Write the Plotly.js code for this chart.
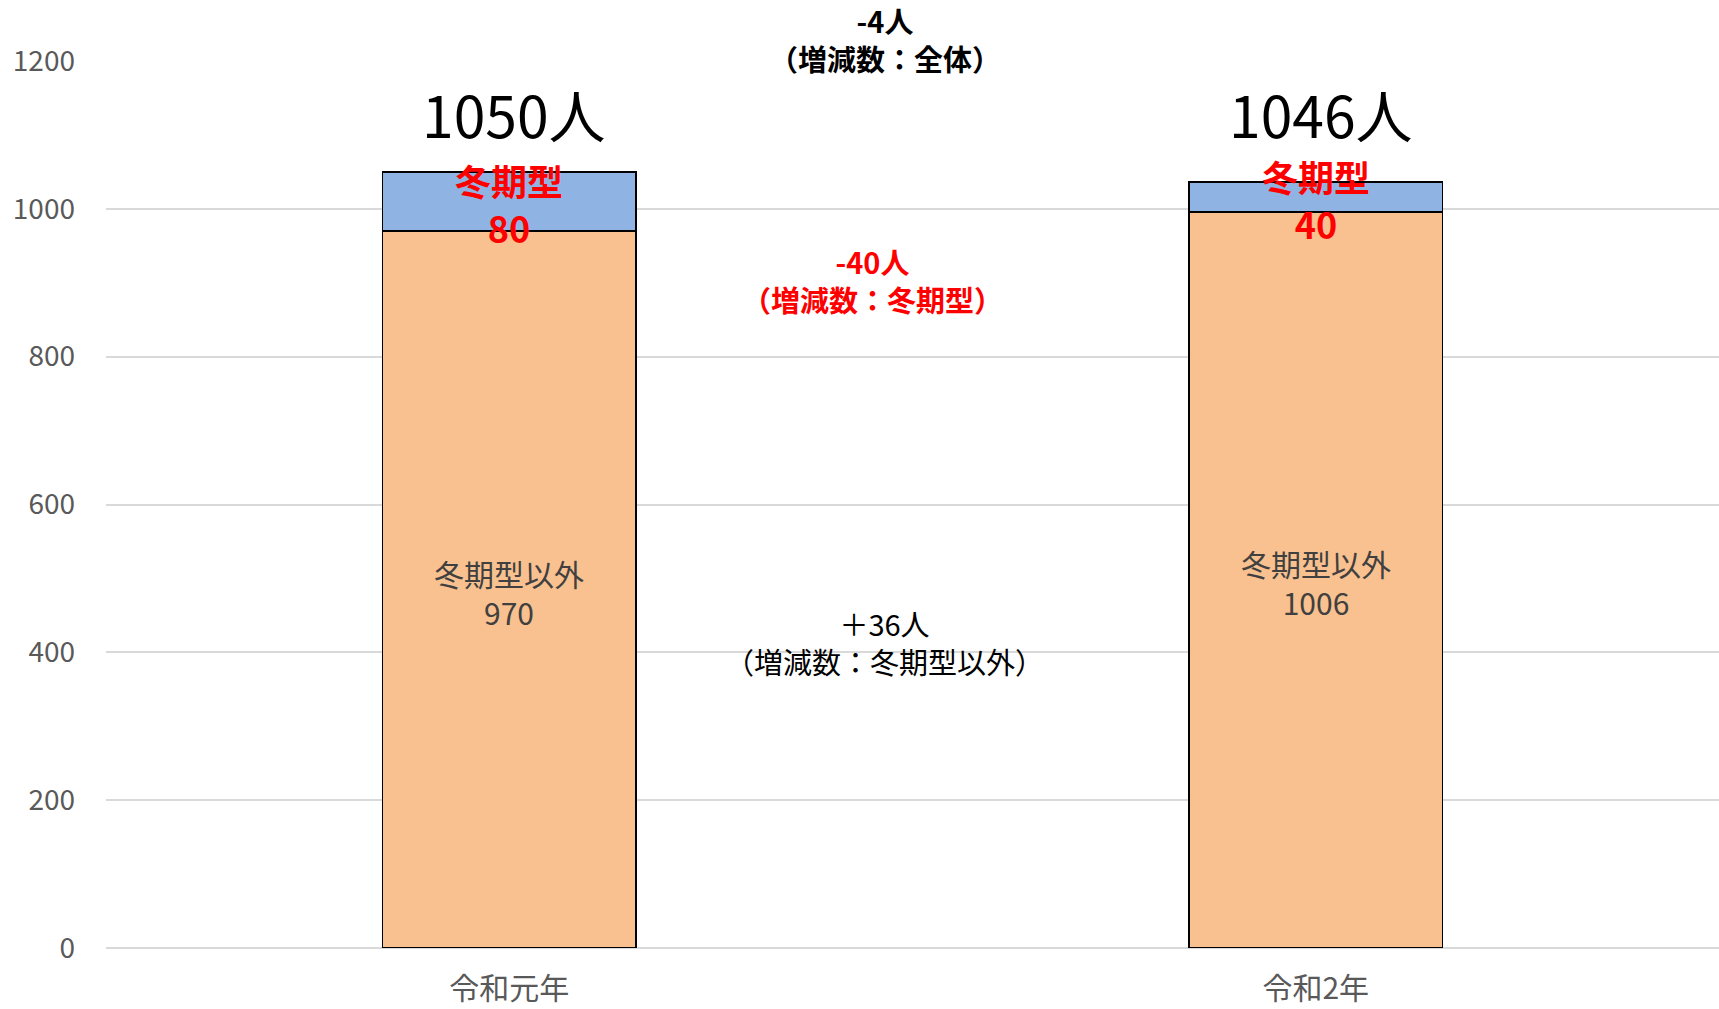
<!DOCTYPE html>
<html>
<head>
<meta charset="utf-8">
<script src="https://cdn.plot.ly/plotly-3.0.1.min.js"></script>
<style>
  html, body { margin: 0; padding: 0; background: #ffffff; }
  #chart { width: 1719px; height: 1009px; }
</style>
</head>
<body>
<div id="chart"></div>
<script>
// ---- data ----
const categories = ['令和元年', '令和2年'];
const otherValues = [970, 996];          // drawn height of 冬期型以外 segment
const winterValues = [80, 40];           // drawn height of 冬期型 segment
const otherLabels = ['970', '1006'];     // label text as printed
const winterLabels = ['80', '40'];
const totalLabels = ['1050人', '1046人'];
const otherName = '冬期型以外';
const winterName = '冬期型';
const yTickValues = [0, 200, 400, 600, 800, 1000, 1200];
const changeTotal = ['-4人', '（増減数：全体）'];
const changeWinter = ['-40人', '（増減数：冬期型）'];
const changeOther = ['＋36人', '（増減数：冬期型以外）'];

// ---- styles ----
const FONT = '"Noto Sans CJK JP", "Noto Sans", sans-serif';
const barWidth = 0.314;

const traces = [
  {
    type: 'bar', name: otherName, x: categories, y: otherValues,
    width: barWidth,
    marker: { color: '#F9C18F', line: { color: '#000000', width: 1.5 } },
    hoverinfo: 'skip'
  },
  {
    type: 'bar', name: winterName, x: categories, y: winterValues,
    width: barWidth,
    marker: { color: '#8FB4E3', line: { color: '#000000', width: 1.5 } },
    hoverinfo: 'skip'
  }
];

const annotations = [];
categories.forEach((c, i) => {
  const otherMid = otherValues[i] / 2;
  const winterMid = otherValues[i] + winterValues[i] / 2;
  annotations.push({ x: c, y: otherMid, xref: 'x', yref: 'y', showarrow: false,
    xanchor: 'center', yanchor: 'middle', yshift: -3,
    text: otherName + '<br>' + otherLabels[i],
    font: { family: FONT, size: 30, color: '#404040' } });
  annotations.push({ x: c, y: winterMid, xref: 'x', yref: 'y', showarrow: false,
    xanchor: 'center', yanchor: 'middle', yshift: -2,
    text: '<b>' + winterName + '<br>' + winterLabels[i] + '</b>',
    font: { family: FONT, size: 36, color: '#FF0000' } });
  annotations.push({ x: i + 0.006, y: 1130, xref: 'x', yref: 'y', showarrow: false,
    xanchor: 'center', yanchor: 'middle',
    text: totalLabels[i], font: { family: FONT, size: 57, color: '#000000' } });
});

function changeNote(lines, x, y, color, bold, yref) {
  const t = lines.join('<br>');
  annotations.push({ x: x, y: y, xref: 'x', yref: yref, showarrow: false,
    xanchor: 'center', yanchor: 'middle',
    text: bold ? '<b>' + t + '</b>' : t,
    font: { family: FONT, size: 29, color: color } });
}
changeNote(changeTotal, 0.466, 1.025, '#000000', true, 'paper');
changeNote(changeWinter, 0.451, 904, '#FF0000', true, 'y');
changeNote(changeOther, 0.465, 414, '#000000', false, 'y');

const layout = {
  width: 1719, height: 1009,
  margin: { l: 106, r: 0, t: 61, b: 61 },
  paper_bgcolor: '#ffffff', plot_bgcolor: '#ffffff',
  barmode: 'stack',
  showlegend: false,
  font: { family: FONT },
  xaxis: {
    type: 'category',
    tickfont: { family: FONT, size: 30, color: '#595959' },
    ticks: '', showgrid: false, showline: false, zeroline: false,
    ticklabelstandoff: 20,
    fixedrange: true
  },
  yaxis: {
    range: [0, 1200],
    tickmode: 'array', tickvals: yTickValues, ticktext: yTickValues.map(String),
    tickfont: { family: FONT, size: 28, color: '#595959' },
    showgrid: true, gridcolor: '#D9D9D9', gridwidth: 2,
    zeroline: true, zerolinecolor: '#D9D9D9', zerolinewidth: 2,
    showline: false, ticks: '',
    ticklabelstandoff: 30,
    fixedrange: true
  },
  annotations: annotations
};

Plotly.newPlot('chart', traces, layout, { displayModeBar: false, staticPlot: true });
</script>
</body>
</html>
